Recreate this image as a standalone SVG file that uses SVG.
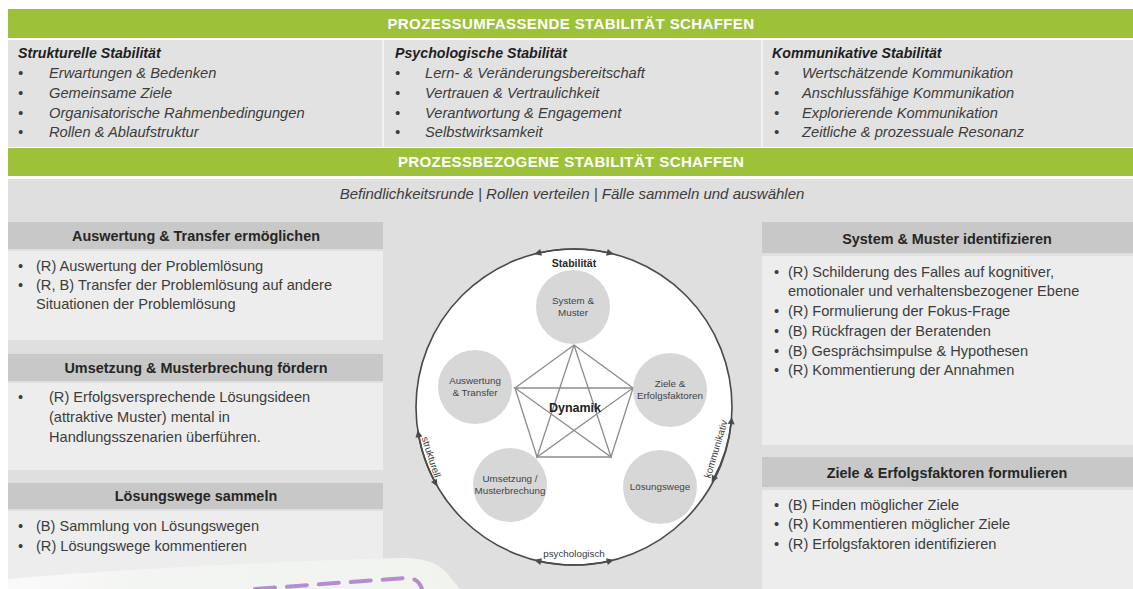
<svg xmlns="http://www.w3.org/2000/svg" width="1133" height="589" viewBox="0 0 1133 589">
<defs>
<style>
.bar{fill:#9dc23a}
.bt{font-family:"Liberation Sans",Arial,sans-serif;font-weight:bold;font-size:15px;fill:#ffffff;text-anchor:middle;letter-spacing:0.4px}
.ct{font-family:"Liberation Sans",Arial,sans-serif;font-weight:bold;font-style:italic;font-size:14.2px;fill:#1e1e1e}
.ti{font-family:"Liberation Sans",Arial,sans-serif;font-style:italic;font-size:14.7px;fill:#3c3c3c}
.hd{fill:#c8c8c8}
.bd{fill:#ededed}
.ht{font-family:"Liberation Sans",Arial,sans-serif;font-weight:bold;font-size:14.4px;fill:#262626;text-anchor:middle}
.t{font-family:"Liberation Sans",Arial,sans-serif;font-size:14.6px;fill:#3c3c3c}
.sc{fill:#d7d7d7}
.st{font-family:"Liberation Sans",Arial,sans-serif;font-size:9.8px;fill:#444444;text-anchor:middle}
.pl{fill:none;stroke:#8c8c8c;stroke-width:1.3}
.arc{fill:none;stroke:#4a4a4a;stroke-width:1.6;marker-start:url(#ah);marker-end:url(#ah)}
.lb{font-family:"Liberation Sans",Arial,sans-serif;font-size:9.8px;fill:#3a3a3a;text-anchor:middle}
.lbb{font-family:"Liberation Sans",Arial,sans-serif;font-weight:bold;fill:#2a2a2a;text-anchor:middle}
</style>
<marker id="ah" viewBox="0 0 10 10" refX="6" refY="5" markerWidth="8" markerHeight="7" markerUnits="userSpaceOnUse" orient="auto-start-reverse">
<path d="M0,0 L10,5 L0,10 Z" fill="#4a4a4a"/>
</marker>
<radialGradient id="pg" cx="0.5" cy="0.55" r="0.55">
<stop offset="0" stop-color="#7e7e7e"/>
<stop offset="1" stop-color="#f0f0f0"/>
</radialGradient>
<linearGradient id="ov" x1="0" y1="0" x2="1" y2="0">
<stop offset="0" stop-color="#ffffff" stop-opacity="0.7"/>
<stop offset="0.3" stop-color="#f3f5f2"/>
<stop offset="1" stop-color="#f1f3ef"/>
</linearGradient>
</defs>
<rect width="1133" height="589" fill="#ffffff"/>

<g id="top-section">
<rect class="bar" x="8" y="9" width="1125" height="29"/>
<text class="bt" x="571" y="29">PROZESSUMFASSENDE STABILITÄT SCHAFFEN</text>
<rect x="8" y="40" width="1125" height="107" fill="#e2e2e2"/>
<rect x="382" y="40" width="2" height="107" fill="#f2f2f2"/>
<rect x="761" y="40" width="2" height="107" fill="#f2f2f2"/>
</g>

<g id="col-strukturell">
<text class="ct" x="18" y="58">Strukturelle Stabilität</text>
<g class="ti">
<text x="18" y="78">•</text><text x="49" y="78">Erwartungen &amp; Bedenken</text>
<text x="18" y="98">•</text><text x="49" y="98">Gemeinsame Ziele</text>
<text x="18" y="118">•</text><text x="49" y="118">Organisatorische Rahmenbedingungen</text>
<text x="18" y="137">•</text><text x="49" y="137">Rollen &amp; Ablaufstruktur</text>
</g>
</g>

<g id="col-psychologisch">
<text class="ct" x="395" y="58">Psychologische Stabilität</text>
<g class="ti">
<text x="395" y="78">•</text><text x="425" y="78">Lern- &amp; Veränderungsbereitschaft</text>
<text x="395" y="98">•</text><text x="425" y="98">Vertrauen &amp; Vertraulichkeit</text>
<text x="395" y="118">•</text><text x="425" y="118">Verantwortung  &amp; Engagement</text>
<text x="395" y="137">•</text><text x="425" y="137">Selbstwirksamkeit</text>
</g>
</g>

<g id="col-kommunikativ">
<text class="ct" x="772" y="58">Kommunikative Stabilität</text>
<g class="ti">
<text x="774" y="78">•</text><text x="802" y="78">Wertschätzende Kommunikation</text>
<text x="774" y="98">•</text><text x="802" y="98">Anschlussfähige Kommunikation</text>
<text x="774" y="118">•</text><text x="802" y="118">Explorierende Kommunikation</text>
<text x="774" y="137">•</text><text x="802" y="137">Zeitliche &amp; prozessuale Resonanz</text>
</g>
</g>

<g id="process-section">
<rect class="bar" x="8" y="148" width="1125" height="28"/>
<text class="bt" x="571" y="167">PROZESSBEZOGENE STABILITÄT SCHAFFEN</text>
<rect x="8" y="179" width="1125" height="410" fill="#dfdfdf"/>
<text class="ti" x="572" y="199" text-anchor="middle" style="font-size:15px">Befindlichkeitsrunde | Rollen verteilen | Fälle sammeln und auswählen</text>
</g>

<g id="box-auswertung">
<rect class="hd" x="8" y="222" width="375" height="27"/>
<rect class="bd" x="8" y="251" width="375" height="89"/>
<text class="ht" x="196" y="241">Auswertung &amp; Transfer ermöglichen</text>
<g class="t">
<text x="18" y="271">•</text><text x="36" y="271">(R) Auswertung  der Problemlösung</text>
<text x="18" y="290">•</text><text x="36" y="290">(R, B) Transfer der Problemlösung  auf andere</text>
<text x="36" y="309">Situationen  der Problemlösung</text>
</g>
</g>

<g id="box-umsetzung">
<rect class="hd" x="8" y="354" width="375" height="27"/>
<rect class="bd" x="8" y="383" width="375" height="87"/>
<text class="ht" x="196" y="373">Umsetzung &amp; Musterbrechung fördern</text>
<g class="t">
<text x="18" y="402">•</text><text x="49" y="402">(R) Erfolgsversprechende Lösungsideen</text>
<text x="49" y="422">(attraktive Muster) mental in</text>
<text x="49" y="442">Handlungsszenarien überführen.</text>
</g>
</g>

<g id="box-loesungswege">
<rect class="hd" x="8" y="483" width="375" height="26"/>
<rect class="bd" x="8" y="511" width="375" height="78"/>
<text class="ht" x="196" y="501">Lösungswege sammeln</text>
<g class="t">
<text x="18" y="531">•</text><text x="36" y="531">(B) Sammlung  von Lösungswegen</text>
<text x="18" y="551">•</text><text x="36" y="551">(R) Lösungswege kommentieren</text>
</g>
</g>

<g id="box-system">
<rect class="hd" x="762" y="222" width="371" height="31"/>
<rect class="bd" x="762" y="256" width="371" height="189"/>
<text class="ht" x="947" y="244">System &amp; Muster identifizieren</text>
<g class="t">
<text x="774" y="277">•</text><text x="788" y="277">(R) Schilderung des Falles auf kognitiver,</text>
<text x="788" y="296">emotionaler  und verhaltensbezogener  Ebene</text>
<text x="774" y="316">•</text><text x="788" y="316">(R) Formulierung  der Fokus-Frage</text>
<text x="774" y="336">•</text><text x="788" y="336">(B) Rückfragen der Beratenden</text>
<text x="774" y="356">•</text><text x="788" y="356">(B) Gesprächsimpulse &amp; Hypothesen</text>
<text x="774" y="375">•</text><text x="788" y="375">(R) Kommentierung  der Annahmen</text>
</g>
</g>

<g id="box-ziele">
<rect class="hd" x="762" y="457" width="371" height="30"/>
<rect class="bd" x="762" y="490" width="371" height="99"/>
<text class="ht" x="947" y="478">Ziele &amp; Erfolgsfaktoren formulieren</text>
<g class="t">
<text x="774" y="510">•</text><text x="788" y="510">(B) Finden möglicher Ziele</text>
<text x="774" y="529">•</text><text x="788" y="529">(R) Kommentieren  möglicher Ziele</text>
<text x="774" y="549">•</text><text x="788" y="549">(R) Erfolgsfaktoren identifizieren</text>
</g>
</g>

<g id="cycle">
<circle cx="574" cy="407" r="158" fill="#ffffff" stroke="#4a4a4a" stroke-width="1.6"/>
</g>

<g id="connectors">
<path class="arc" d="M537,253.4 A158,158 0 0 1 611,253.4"/>
<path class="arc" d="M537,560.6 A158,158 0 0 0 611,560.6"/>
<path class="arc" d="M418.2,433 A158,158 0 0 0 436,484"/>
<path class="arc" d="M731.5,420 A158,158 0 0 1 713,480"/>
<polygon class="pl" fill="url(#pg)" points="574,345 633,388 611,457 537,457 515,388"/>
<polyline class="pl" points="574,345 611,457 515,388 633,388 537,457 574,345"/>
</g>

<g id="labels-cycle">
<text class="lbb" x="574" y="267" style="font-size:10.5px">Stabilität</text>
<text class="lb" x="574" y="557">psychologisch</text>
<text class="lb" transform="translate(428,458) rotate(72)">strukturell</text>
<text class="lb" transform="translate(719,450) rotate(-73)">kommunikativ</text>
<text class="lbb" x="575" y="412" style="font-size:12.5px;fill:#222222">Dynamik</text>
</g>

<g id="node-system">
<circle class="sc" cx="573" cy="307" r="37"/>
<text class="st" x="573" y="304">System &amp;</text>
<text class="st" x="573" y="316">Muster</text>
</g>
<g id="node-ziele">
<circle class="sc" cx="670" cy="390" r="37"/>
<text class="st" x="670" y="387">Ziele &amp;</text>
<text class="st" x="670" y="399">Erfolgsfaktoren</text>
</g>
<g id="node-loesungswege">
<circle class="sc" cx="660" cy="487" r="37"/>
<text class="st" x="660" y="490">Lösungswege</text>
</g>
<g id="node-umsetzung">
<circle class="sc" cx="510" cy="485" r="37"/>
<text class="st" x="510" y="482">Umsetzung /</text>
<text class="st" x="510" y="494">Musterbrechung</text>
</g>
<g id="node-auswertung">
<circle class="sc" cx="475" cy="387" r="37"/>
<text class="st" x="475" y="384">Auswertung</text>
<text class="st" x="475" y="396">&amp; Transfer</text>
</g>

<g id="overlay">
<path d="M0,589 L0,580 C80,572 250,562 400,558 Q432,557 446,572 L460,589 Z" fill="url(#ov)"/>
<path d="M255,589 L405,578 Q418,577 422,589" fill="none" stroke="#b58dd0" stroke-width="4" stroke-dasharray="20 12" stroke-linecap="round"/>
</g>
</svg>
